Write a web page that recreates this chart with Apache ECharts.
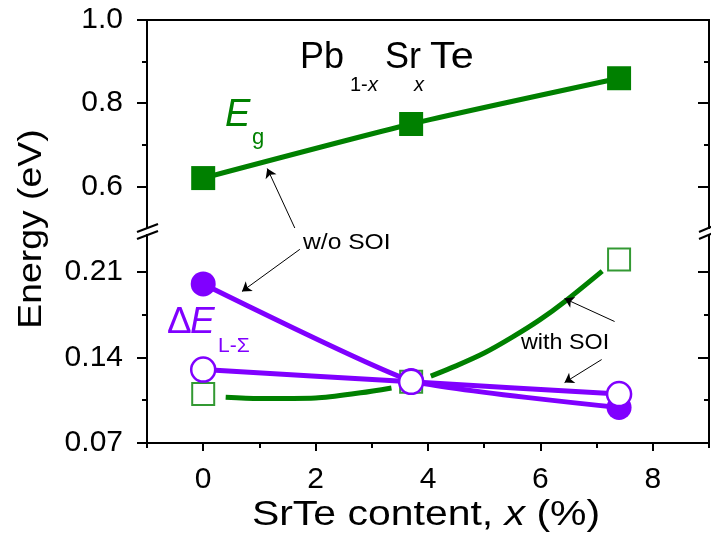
<!DOCTYPE html>
<html>
<head>
<meta charset="utf-8">
<script src="https://cdn.jsdelivr.net/npm/echarts@6/dist/echarts.min.js"></script>
<style>html,body{margin:0;padding:0;background:#fff}#c{width:711px;height:541px}</style>
</head>
<body>
<div id="c"></div>
<script>
// ---- data ----
const X_VALUES = [0, 3.7, 7.4];                 // SrTe content x (%)
const EG_WO_SOI = [0.62, 0.75, 0.86];           // Eg, w/o SOI (filled squares)
const EG_WITH_SOI = [0.11, 0.12, 0.22];         // Eg, with SOI (open squares)
const DE_WO_SOI = [0.20, 0.121, 0.099];         // ΔE L-Σ, w/o SOI (filled circles)
const DE_WITH_SOI = [0.13, 0.12, 0.11];         // ΔE L-Σ, with SOI (open circles)
// guide curve drawn through the Eg (with SOI) points
const EG_FIT_X = [0.4, 1, 2, 2.8, 3.35, 3.7, 4.05, 4.5, 5, 5.5, 6, 6.43, 7.1];
const EG_FIT_Y = [0.1073, 0.1063, 0.1068, 0.111, 0.115, null, 0.1246, 0.133, 0.1435, 0.1565, 0.171, 0.1855, 0.2105];
// tick values
const X_MAJOR = [0, 2, 4, 6, 8];
const X_MINOR = [-1, 1, 3, 5, 7, 9];
const Y_TOP_MAJOR = [0.6, 0.8, 1.0];
const Y_TOP_MINOR = [0.7, 0.9];
const Y_BOT_MAJOR = [0.07, 0.14, 0.21];
const Y_BOT_MINOR = [0.105, 0.175];
// annotation arrows [from, to] in data coordinates
const ARROW_TOP = [[1.63, 0.5], [1.14, 0.643]];
const ARROWS_BOT = [
  [[1.72, 0.2283], [0.69, 0.1939]],
  [[7.32, 0.1693], [6.43, 0.188]],
  [[7.09, 0.1382], [6.43, 0.1194]]
];

const GREEN = '#008000';
const PURPLE = '#8000FF';
const FONT = "'Liberation Sans', Arial, sans-serif";

const zip = (xs, ys) => xs.map((x, i) => [x, ys[i]]);

function yAx(grid, pos, min, max, vals, len, inside, labels, digits) {
  return {
    type: 'value', gridIndex: grid, position: pos, min: min, max: max,
    axisLine: { show: true, onZero: false, lineStyle: { color: '#000', width: 2 } },
    axisTick: { show: true, customValues: vals, length: len, inside: inside, lineStyle: { color: '#000', width: 2 } },
    axisLabel: labels ? { show: true, customValues: vals, margin: 24, fontSize: 30, color: '#000', fontFamily: FONT,
      formatter: v => Number(v).toFixed(digits) } : { show: false },
    splitLine: { show: false }
  };
}
function xAx(grid, pos, vals, len, labels, showTicks) {
  return {
    type: 'value', gridIndex: grid, position: pos, min: -1, max: 9,
    axisLine: { show: true, onZero: false, lineStyle: { color: '#000', width: 2 } },
    axisTick: { show: showTicks, customValues: vals, length: len, lineStyle: { color: '#000', width: 2 } },
    axisLabel: labels ? { show: true, customValues: vals, margin: 22, fontSize: 30, color: '#000', fontFamily: FONT } : { show: false },
    splitLine: { show: false }
  };
}

const arrowLine = (pairs) => ({
  silent: true, animation: false,
  symbol: ['none', 'arrow'], symbolSize: 9,
  label: { show: false },
  lineStyle: { color: '#000', width: 1, type: 'solid' },
  emphasis: { disabled: true },
  data: pairs.map(p => [{ coord: p[0] }, { coord: p[1] }])
});

// text helper: y given as alphabetic baseline
const txt = (x, baseline, s, size, color, italic, extra) => Object.assign({
  type: 'text', x: x, y: baseline - 0.34 * size, z: 50,
  style: { text: s, fontSize: size, fontStyle: italic ? 'italic' : 'normal', fontFamily: FONT, fill: color,
    textAlign: 'left', textVerticalAlign: 'middle' }
}, extra || {});

const option = {
  animation: false,
  backgroundColor: '#fff',
  grid: [
    { left: 147, right: 2, top: 20, height: 208 },
    { left: 147, right: 2, top: 235, bottom: 98 }
  ],
  xAxis: [
    xAx(0, 'top', [], 0, false, false),
    xAx(1, 'bottom', X_MAJOR, 8, true, true),
    xAx(1, 'bottom', X_MINOR, 5, false, true)
  ],
  yAxis: [
    yAx(0, 'left', 0.5, 1.0, Y_TOP_MAJOR, 10, false, true, 1),
    yAx(0, 'left', 0.5, 1.0, Y_TOP_MINOR, 5, false, false),
    yAx(0, 'right', 0.5, 1.0, Y_TOP_MAJOR, 11, true, false),
    yAx(0, 'right', 0.5, 1.0, Y_TOP_MINOR, 5, true, false),
    yAx(1, 'left', 0.07, 0.24, Y_BOT_MAJOR, 10, false, true, 2),
    yAx(1, 'left', 0.07, 0.24, Y_BOT_MINOR, 5, false, false),
    yAx(1, 'right', 0.07, 0.24, Y_BOT_MAJOR, 11, true, false),
    yAx(1, 'right', 0.07, 0.24, Y_BOT_MINOR, 5, true, false)
  ],
  series: [
    {
      name: 'Eg w/o SOI', type: 'line', xAxisIndex: 0, yAxisIndex: 0, z: 3,
      data: zip(X_VALUES, EG_WO_SOI), smooth: 0.2,
      symbol: 'rect', symbolSize: 24,
      itemStyle: { color: GREEN }, lineStyle: { color: GREEN, width: 5 },
      markLine: arrowLine([ARROW_TOP])
    },
    {
      name: 'Eg with SOI curve', type: 'line', xAxisIndex: 1, yAxisIndex: 4, z: 2,
      data: zip(EG_FIT_X, EG_FIT_Y), smooth: 0.3, connectNulls: false,
      showSymbol: false, symbol: 'none',
      lineStyle: { color: GREEN, width: 5 }
    },
    {
      name: 'Eg with SOI', type: 'scatter', xAxisIndex: 1, yAxisIndex: 4, z: 3,
      data: zip(X_VALUES, EG_WITH_SOI),
      symbol: 'rect', symbolSize: 22,
      itemStyle: { color: '#fff', borderColor: GREEN, borderWidth: 2 }
    },
    {
      name: 'dE w/o SOI', type: 'line', xAxisIndex: 1, yAxisIndex: 4, z: 4,
      data: zip(X_VALUES, DE_WO_SOI), smooth: 0.15,
      symbol: 'circle', symbolSize: 25,
      itemStyle: { color: PURPLE }, lineStyle: { color: PURPLE, width: 5 }
    },
    {
      name: 'dE with SOI', type: 'line', xAxisIndex: 1, yAxisIndex: 4, z: 5,
      data: zip(X_VALUES, DE_WITH_SOI), smooth: 0.2,
      symbol: 'circle', symbolSize: 24,
      itemStyle: { color: '#fff', borderColor: PURPLE, borderWidth: 2.5 },
      lineStyle: { color: PURPLE, width: 5 },
      markLine: arrowLine(ARROWS_BOT)
    }
  ],
  graphic: [
    // axis break marks
    { type: 'line', z: 100, shape: { x1: 137, y1: 232, x2: 158, y2: 224 }, style: { stroke: '#000', lineWidth: 2 } },
    { type: 'line', z: 100, shape: { x1: 137, y1: 239, x2: 158, y2: 231 }, style: { stroke: '#000', lineWidth: 2 } },
    { type: 'line', z: 100, shape: { x1: 699, y1: 232, x2: 713, y2: 226 }, style: { stroke: '#000', lineWidth: 2 } },
    { type: 'line', z: 100, shape: { x1: 699, y1: 239, x2: 713, y2: 233 }, style: { stroke: '#000', lineWidth: 2 } },
    // title Pb1-xSrxTe
    txt(300, 70, 'Pb', 36, '#000', false),
    txt(350, 92, '1-', 20, '#000', false),
    txt(368, 92, 'x', 20, '#000', true),
    txt(385, 70, 'Sr', 36, '#000', false),
    txt(414, 92, 'x', 20, '#000', true),
    txt(430, 70, 'Te', 36, '#000', false, { scaleX: 1.15 }),
    // Eg label
    txt(225, 128, 'E', 38, GREEN, true),
    txt(252, 145, 'g', 22, GREEN, false),
    // ΔE L-Σ label
    txt(167, 335, 'Δ', 37, PURPLE, false),
    txt(190, 335, 'E', 37, PURPLE, true),
    txt(218, 353, 'L-Σ', 21, PURPLE, false),
    // annotations
    txt(303, 250, 'w/o SOI', 22, '#000', false, { scaleX: 1.12 }),
    txt(521, 350, 'with SOI', 22, '#000', false, { scaleX: 1.06 }),
    // axis titles
    { type: 'text', x: 32, y: 229, rotation: Math.PI / 2, scaleX: 1.1,
      style: { text: 'Energy (eV)', fontSize: 34, fontFamily: FONT, fill: '#000', textAlign: 'center', textVerticalAlign: 'middle' } },
    { type: 'text', x: 426, y: 515, scaleX: 1.17,
      style: { text: '{n|SrTe content, }{i|x}{n| (%)}', fontFamily: FONT, fill: '#000', textAlign: 'center', textVerticalAlign: 'middle',
        rich: { n: { fontSize: 35, fontFamily: FONT, fill: '#000' }, i: { fontSize: 35, fontStyle: 'italic', fontFamily: FONT, fill: '#000' } } } }
  ]
};

const chart = echarts.init(document.getElementById('c'), null, { renderer: 'canvas' });
chart.setOption(option);
</script>
</body>
</html>
